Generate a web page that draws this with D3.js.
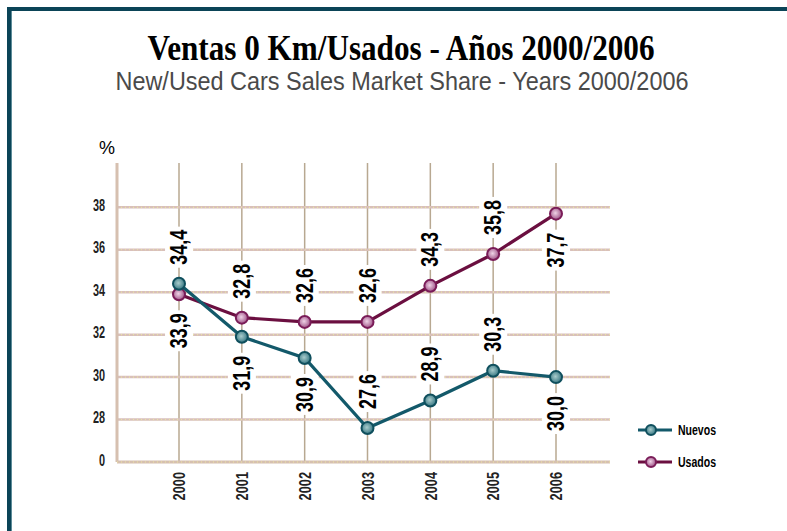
<!DOCTYPE html>
<html>
<head>
<meta charset="utf-8">
<script src="https://cdn.jsdelivr.net/npm/d3@7"></script>
<style>
  body { margin: 0; background: #fff; }
  .yaxis path, .xaxis path, .yaxis line, .xaxis line { display: none; }
</style>
</head>
<body>
<div id="chart"></div>
<script>
// data
var years = ["2000", "2001", "2002", "2003", "2004", "2005", "2006"]
var nuevos = [34.4, 31.9, 30.9, 27.6, 28.9, 30.3, 30.0]
var usados = [33.9, 32.8, 32.6, 32.6, 34.3, 35.8, 37.7]
var yTickValues = [26, 28, 30, 32, 34, 36, 38]
var yTickLabels = ["0", "28", "30", "32", "34", "36", "38"]   // axis is broken: bottom tick reads 0
var seriesNames = ["Nuevos", "Usados"]

// which side of the point each value label sits on
var nuevosSide = ["above", "below", "below", "above", "above", "above", "below"]
var usadosSide = ["below", "above", "above", "above", "above", "above", "below"]

var W = 787, H = 531
var plot = { left: 117, right: 610, top: 163, bottom: 462 }
var sans = "Liberation Sans, Arial, sans-serif"

var svg = d3.select("#chart")
  .append("svg")
  .attr("width", W)
  .attr("height", H)

// squeeze a text horizontally, like a condensed face
function narrow(sel, k) {
  sel.each(function() {
    var len = this.getComputedTextLength()
    d3.select(this).attr("textLength", len * k).attr("lengthAdjust", "spacingAndGlyphs")
  })
}

var defs = svg.append("defs")
function grad(id, inner, outer) {
  var g = defs.append("radialGradient").attr("id", id).attr("cx", "45%").attr("cy", "45%").attr("r", "60%")
  g.append("stop").attr("offset", "0%").attr("stop-color", inner)
  g.append("stop").attr("offset", "100%").attr("stop-color", outer)
}
grad("gN", "#a9cccc", "#2c6f7c")
grad("gU", "#efd3e6", "#98487f")

// frame
svg.append("rect").attr("x", 7).attr("y", 7).attr("width", W).attr("height", 4).attr("fill", "#0b4457")
svg.append("rect").attr("x", 7).attr("y", 7).attr("width", 4).attr("height", H).attr("fill", "#0b4457")
svg.append("rect").attr("x", 11).attr("y", 11).attr("width", 1).attr("height", H).attr("fill", "#5d8c99")

// titles
svg.append("text")
  .attr("x", 401).attr("y", 60)
  .attr("text-anchor", "middle")
  .attr("font-family", "Liberation Serif, serif")
  .attr("font-weight", "bold")
  .attr("font-size", 35)
  .attr("textLength", 507)
  .attr("lengthAdjust", "spacingAndGlyphs")
  .text("Ventas 0 Km/Usados - Años 2000/2006")

svg.append("text")
  .attr("x", 402).attr("y", 90)
  .attr("text-anchor", "middle")
  .attr("font-family", sans)
  .attr("font-size", 25)
  .attr("fill", "#4a4a4a")
  .attr("textLength", 573)
  .attr("lengthAdjust", "spacingAndGlyphs")
  .text("New/Used Cars Sales Market Share - Years 2000/2006")

svg.append("text")
  .attr("x", 107).attr("y", 154)
  .attr("text-anchor", "middle")
  .attr("font-family", sans)
  .attr("font-size", 18)
  .text("%")

var x = d3.scalePoint()
  .domain(years)
  .range([179, 556])

var y = d3.scaleLinear()
  .domain([26, 38])
  .range([plot.bottom, 207.3])

// grid
var grid = svg.append("g")
grid.selectAll(".vgrid")
  .data(years)
  .enter()
  .append("line")
  .attr("x1", function(d) { return x(d) })
  .attr("x2", function(d) { return x(d) })
  .attr("y1", plot.top)
  .attr("y2", plot.bottom)
  .attr("stroke", "#b8a891")
  .attr("stroke-width", 1.5)

grid.selectAll(".hgrid")
  .data(yTickValues.slice(1))
  .enter()
  .append("line")
  .attr("x1", plot.left)
  .attr("x2", plot.right)
  .attr("y1", function(d) { return y(d) })
  .attr("y2", function(d) { return y(d) })
  .attr("stroke", "#d9c0ba")
  .attr("stroke-width", 2.5)
grid.selectAll(".hdots")
  .data(yTickValues.slice(1))
  .enter()
  .append("line")
  .attr("x1", plot.left)
  .attr("x2", plot.right)
  .attr("y1", function(d) { return y(d) })
  .attr("y2", function(d) { return y(d) })
  .attr("stroke", "#e7e3a4")
  .attr("stroke-width", 1.2)
  .attr("stroke-dasharray", "1,3")

// axis lines
grid.append("line")
  .attr("x1", plot.left).attr("x2", plot.left)
  .attr("y1", plot.top).attr("y2", plot.bottom)
  .attr("stroke", "#d6c0b0").attr("stroke-width", 3)
grid.append("line")
  .attr("x1", plot.left).attr("x2", plot.right)
  .attr("y1", plot.bottom).attr("y2", plot.bottom)
  .attr("stroke", "#d6c0b0").attr("stroke-width", 3)
grid.append("line")
  .attr("x1", plot.left).attr("x2", plot.right)
  .attr("y1", plot.bottom).attr("y2", plot.bottom)
  .attr("stroke", "#ebe6a0").attr("stroke-width", 1.2).attr("stroke-dasharray", "1,3")

// axes (labels only)
svg.append("g")
  .attr("class", "yaxis")
  .attr("transform", "translate(" + (plot.left - 9) + ",-2)")
  .call(d3.axisLeft(y).tickValues(yTickValues).tickSize(0).tickFormat(function(d, i) { return yTickLabels[i] }))
  .call(function(g) {
    g.selectAll("text")
      .attr("font-family", sans)
      .attr("font-weight", "bold")
      .attr("font-size", 16)
      .attr("fill", "#222")
      .call(narrow, 0.68)
  })

svg.append("g")
  .attr("class", "xaxis")
  .attr("transform", "translate(0," + (plot.bottom + 10) + ")")
  .call(d3.axisBottom(x).tickSize(0))
  .call(function(g) {
    g.selectAll("text")
      .attr("transform", "rotate(-90)")
      .attr("x", 0).attr("y", 0)
      .attr("dy", "0.36em")
      .attr("text-anchor", "end")
      .attr("font-family", sans)
      .attr("font-weight", "bold")
      .attr("font-size", 16)
      .attr("fill", "#222")
      .call(narrow, 0.8)
  })

// value labels
var fmt = d3.formatLocale({ decimal: ",", thousands: ".", grouping: [3], currency: ["", ""] }).format(".1f")
var fs = 23
var gap = 19

function labels(values, sides) {
  var g = svg.append("g")
  values.forEach(function(v, i) {
    var px = x(years[i]), py = y(v)
    var above = sides[i] == "above"
    var t = g.append("text")
      .attr("transform", "translate(" + px + "," + (above ? py - gap : py + gap) + ") rotate(-90)")
      .attr("dy", "0.35em")
      .attr("text-anchor", above ? "start" : "end")
      .attr("font-family", sans)
      .attr("font-weight", "bold")
      .attr("font-size", fs)
      .text(fmt(v))
      .call(narrow, 0.78)
    var b = t.node().getBBox()
    g.insert("rect", function() { return t.node() })
      .attr("transform", "translate(" + px + "," + (above ? py - gap : py + gap) + ") rotate(-90)")
      .attr("x", b.x - 3).attr("y", b.y - 1)
      .attr("width", b.width + 6).attr("height", b.height + 2)
      .attr("fill", "#fff")
  })
}
labels(nuevos, nuevosSide)
labels(usados, usadosSide)

// lines + markers
var line = d3.line()
  .x(function(d, i) { return x(years[i]) })
  .y(function(d) { return y(d) })

function series(values, col, ring, fill) {
  svg.append("path")
    .datum(values)
    .attr("fill", "none")
    .attr("stroke", col)
    .attr("stroke-width", 3.2)
    .attr("d", line)
  svg.selectAll(null)
    .data(values)
    .enter()
    .append("circle")
    .attr("cx", function(d, i) { return x(years[i]) })
    .attr("cy", function(d) { return y(d) })
    .attr("r", 6)
    .attr("fill", fill)
    .attr("stroke", ring)
    .attr("stroke-width", 2)
}
series(usados, "#6b0f40", "#7a1c58", "url(#gU)")
series(nuevos, "#13596a", "#0f4f5d", "url(#gN)")

// legend
var leg = [
  { name: seriesNames[0], y: 430, col: "#13596a", ring: "#0f4f5d", fill: "url(#gN)" },
  { name: seriesNames[1], y: 462, col: "#6b0f40", ring: "#7a1c58", fill: "url(#gU)" }
]
var lg = svg.selectAll(".leg").data(leg).enter().append("g")
lg.append("line")
  .attr("x1", 638).attr("x2", 672)
  .attr("y1", function(d) { return d.y }).attr("y2", function(d) { return d.y })
  .attr("stroke", function(d) { return d.col }).attr("stroke-width", 3)
lg.append("circle")
  .attr("cx", 651).attr("cy", function(d) { return d.y }).attr("r", 5)
  .attr("fill", function(d) { return d.fill })
  .attr("stroke", function(d) { return d.ring }).attr("stroke-width", 2)
lg.append("text")
  .attr("x", 678).attr("y", function(d) { return d.y })
  .attr("dy", "0.35em")
  .attr("font-family", sans)
  .attr("font-weight", "bold")
  .attr("font-size", 14)
  .attr("textLength", 38)
  .attr("lengthAdjust", "spacingAndGlyphs")
  .text(function(d) { return d.name })
</script>
</body>
</html>
